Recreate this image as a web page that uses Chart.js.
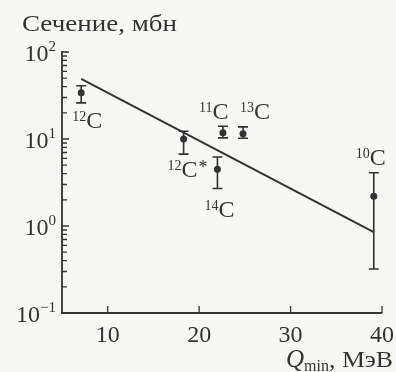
<!DOCTYPE html>
<html>
<head>
<meta charset="utf-8">
<script src="https://cdn.jsdelivr.net/npm/chart.js@4.4.1/dist/chart.umd.min.js"></script>
<style>
  html, body { margin: 0; padding: 0; background: #f7f7f5; }
  #wrap { width: 396px; height: 372px; }
</style>
</head>
<body>
<div id="wrap"><canvas id="c" width="396" height="372"></canvas></div>
<script>
// ---- data ----
const isotopeMass = ['12', '12', '11', '13', '14', '10'];
const isotopeMark = ['', '*', '', '', '', ''];
const qMin      = [7.1, 18.3, 22.6, 24.8, 22.0, 39.1];   // MeV
const sigma     = [34, 10.0, 11.8, 11.5, 4.5, 2.2];      // mb
const sigmaLow  = [26, 6.7, 10.3, 10.2, 2.7, 0.32];
const sigmaHigh = [41, 12.3, 14.0, 13.8, 6.2, 4.1];
const fitQ      = [7.1, 39.1];
const fitSigma  = [49, 0.85];
const yDecades  = [0.1, 1, 10, 100];
const yExponent = ['\u22121', '0', '1', '2'];
const xTicks    = [10, 20, 30, 40];
const yTitle    = 'Сечение, мбн';
const xTitleQ   = 'Q';
const xTitleSub = 'min';
const xTitleRest = ', МэВ';

// label placement offsets (px) relative to each point
const labelOffset = [[-9, 35], [-16, 38], [-24, -14], [-3, -15], [-13, 48], [-18, -31]];

const INK = '#333333';
const SERIF = '"Liberation Serif", "DejaVu Serif", serif';

function stretchText(ctx, str, x, y, targetW) {
  const w = ctx.measureText(str).width;
  const s = targetW / w;
  ctx.save();
  ctx.translate(x, y);
  ctx.scale(s, 1);
  ctx.fillText(str, 0, 0);
  ctx.restore();
}

const decor = {
  id: 'decor',
  beforeDraw(chart) {
    const ctx = chart.ctx;
    ctx.save();
    ctx.fillStyle = '#f7f7f5';
    ctx.fillRect(0, 0, chart.width, chart.height);
    ctx.restore();
  },
  afterDatasetsDraw(chart) {
    const ctx = chart.ctx;
    const xs = chart.scales.x, ys = chart.scales.y;
    const area = chart.chartArea;
    ctx.save();
    ctx.strokeStyle = INK;
    ctx.fillStyle = INK;

    // error bars
    ctx.lineWidth = 1.6;
    for (let i = 0; i < qMin.length; i++) {
      const px = xs.getPixelForValue(qMin[i]);
      const lo = ys.getPixelForValue(sigmaLow[i]);
      const hi = ys.getPixelForValue(sigmaHigh[i]);
      ctx.beginPath();
      ctx.moveTo(px, lo); ctx.lineTo(px, hi);
      ctx.moveTo(px - 5, lo); ctx.lineTo(px + 5, lo);
      ctx.moveTo(px - 5, hi); ctx.lineTo(px + 5, hi);
      ctx.stroke();
    }

    // axes lines
    ctx.lineWidth = 1.8;
    ctx.beginPath();
    ctx.moveTo(area.left, area.top - 1);
    ctx.lineTo(area.left, area.bottom);
    ctx.lineTo(area.right, area.bottom);
    ctx.stroke();

    // y ticks (major + minor, inward)
    ctx.lineWidth = 1.3;
    ctx.beginPath();
    yDecades.forEach((d, k) => {
      const py = ys.getPixelForValue(d);
      ctx.moveTo(area.left, py); ctx.lineTo(area.left + 7, py);
      if (k < yDecades.length - 1) {
        for (let m = 2; m <= 9; m++) {
          const pm = ys.getPixelForValue(d * m);
          ctx.moveTo(area.left, pm); ctx.lineTo(area.left + 5, pm);
        }
      }
    });
    xTicks.forEach(v => {
      const px = xs.getPixelForValue(v);
      ctx.moveTo(px, area.bottom); ctx.lineTo(px, area.bottom - 7);
    });
    ctx.stroke();

    // y tick labels 10^n
    ctx.textBaseline = 'alphabetic';
    yDecades.forEach((d, k) => {
      const py = ys.getPixelForValue(d);
      ctx.font = '15px ' + SERIF;
      ctx.textAlign = 'right';
      const ew = ctx.measureText(yExponent[k]).width;
      ctx.fillText(yExponent[k], 56, py - 1);
      ctx.font = '24px ' + SERIF;
      ctx.fillText('10', 56 - ew, py + 9);
    });

    // x tick labels
    ctx.font = '24px ' + SERIF;
    ctx.textAlign = 'center';
    xTicks.forEach(v => {
      ctx.fillText(String(v), xs.getPixelForValue(v), area.bottom + 29);
    });

    // y title
    ctx.textAlign = 'left';
    ctx.font = '24px ' + SERIF;
    stretchText(ctx, yTitle, 22, 31, 155);

    // x title: Q_min, МэВ
    ctx.font = 'italic 25px ' + SERIF;
    const wQ = ctx.measureText(xTitleQ).width;
    ctx.font = '16px ' + SERIF;
    const wS = ctx.measureText(xTitleSub).width;
    const wR = 64;
    let tx = 393 - (wQ + wS + wR);
    ctx.font = 'italic 25px ' + SERIF;
    ctx.fillText(xTitleQ, tx, 367); tx += wQ;
    ctx.font = '16px ' + SERIF;
    ctx.fillText(xTitleSub, tx, 371); tx += wS;
    ctx.font = '24px ' + SERIF;
    stretchText(ctx, xTitleRest, tx, 367, wR);

    // isotope labels
    for (let i = 0; i < qMin.length; i++) {
      const px = xs.getPixelForValue(qMin[i]) + labelOffset[i][0];
      const py = ys.getPixelForValue(sigma[i]) + labelOffset[i][1];
      ctx.font = '14px ' + SERIF;
      ctx.fillText(isotopeMass[i], px, py - 7);
      const w1 = ctx.measureText(isotopeMass[i]).width;
      ctx.font = '24px ' + SERIF;
      ctx.fillText('C', px + w1, py);
      const w2 = ctx.measureText('C').width;
      if (isotopeMark[i]) {
        ctx.font = '18px ' + SERIF;
        ctx.fillText(isotopeMark[i], px + w1 + w2 + 1, py - 4);
      }
    }
    ctx.restore();
  }
};

new Chart(document.getElementById('c'), {
  type: 'scatter',
  data: {
    datasets: [
      {
        type: 'line',
        data: fitQ.map((q, i) => ({ x: q, y: fitSigma[i] })),
        borderColor: INK,
        borderWidth: 2,
        pointRadius: 0,
        fill: false
      },
      {
        data: qMin.map((q, i) => ({ x: q, y: sigma[i] })),
        backgroundColor: INK,
        borderColor: INK,
        pointRadius: 3.5,
        borderWidth: 0
      }
    ]
  },
  options: {
    responsive: false,
    animation: false,
    devicePixelRatio: 1,
    layout: { padding: { left: 0, right: 14, top: 52, bottom: 0 } },
    plugins: { legend: { display: false }, tooltip: { enabled: false }, title: { display: false } },
    scales: {
      x: {
        type: 'linear', min: 5, max: 40,
        grid: { display: false }, border: { display: false },
        ticks: { display: false },
        afterFit(s) { s.height = 59; }
      },
      y: {
        type: 'logarithmic', min: 0.1, max: 100,
        grid: { display: false }, border: { display: false },
        ticks: { display: false },
        afterFit(s) { s.width = 62; }
      }
    }
  },
  plugins: [decor]
});
</script>
</body>
</html>
